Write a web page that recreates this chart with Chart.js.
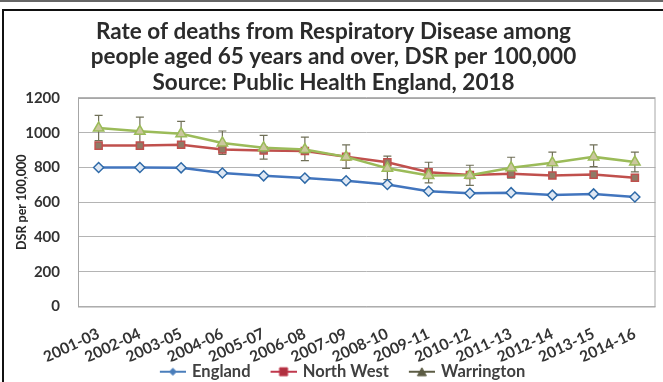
<!DOCTYPE html>
<html lang="en">
<head>
<meta charset="UTF-8">
<title>Respiratory deaths 65+</title>
<style>body{margin:0;background:#fff}</style>
</head>
<body>
<canvas id="myChart" width="663" height="382"></canvas>
<script src="https://cdn.jsdelivr.net/npm/chart.js"></script>
<script>
// data
const v_labels = ['2001-03', '2002-04', '2003-05', '2004-06', '2005-07', '2006-08', '2007-09',
    '2008-10', '2009-11', '2010-12', '2011-13', '2012-14', '2013-15', '2014-16'];
const v_england = [800, 800, 798, 768, 752, 739, 724, 702, 663, 652, 655, 641, 648, 630];
const v_northWest = [926, 926, 931, 903, 898, 895, 862, 830, 773, 757, 764, 754, 759, 741];
const v_warrington = [1027, 1008, 994, 941, 913, 903, 861, 796, 754, 755, 798, 827, 861, 831];
// warrington confidence interval
const v_warrUpper = [1100, 1090, 1065, 1010, 985, 975, 930, 865, 830, 813, 859, 888, 930, 888];
const v_warrLower = [955, 930, 925, 875, 848, 840, 795, 730, 712, 697, 738, 768, 805, 775];
const v_yTicks = [0, 200, 400, 600, 800, 1000, 1200];

const FONT = 'Lato';

// legend symbol: line with marker; blank space on the left gives the gap between items
function f_legendIcon(lineColor, shape, fill, stroke) {
    const c = document.createElement('canvas');
    c.width = 46; c.height = 12;
    const g = c.getContext('2d');
    g.strokeStyle = lineColor; g.lineWidth = 2;
    g.beginPath(); g.moveTo(20, 6); g.lineTo(46, 6); g.stroke();
    g.fillStyle = fill; g.strokeStyle = stroke; g.lineWidth = 1;
    g.beginPath();
    if (shape == 'diamond') {
        g.moveTo(33, 2.5); g.lineTo(36.5, 6); g.lineTo(33, 9.5); g.lineTo(29.5, 6);
    } else if (shape == 'square') {
        g.rect(29, 2, 8, 8);
    } else {
        g.moveTo(33, 2); g.lineTo(37.5, 10); g.lineTo(28.5, 10);
    }
    g.closePath(); g.fill(); g.stroke();
    return c;
}

const v_icons = [
    f_legendIcon('#4a7ebb', 'diamond', '#4a7ebb', '#4a7ebb'),
    f_legendIcon('#c0394d', 'square', '#b03040', '#c0394d'),
    f_legendIcon('#5c5c44', 'triangle', '#5c5c44', '#5c5c44')
];

const frame = {
    id: 'frame',
    beforeDraw(chart) {
        const ctx = chart.ctx;
        ctx.save();
        ctx.fillStyle = '#fff';
        ctx.fillRect(0, 0, chart.width, chart.height);
        ctx.fillStyle = '#666';
        ctx.fillRect(0, 0, chart.width, 2);
        ctx.fillStyle = '#111';
        ctx.fillRect(2, 9, chart.width - 2, 2);
        ctx.fillRect(2, 9, 2, chart.height - 9);
        ctx.restore();
    },
    beforeDatasetsDraw(chart) {
        const ctx = chart.ctx, a = chart.chartArea;
        ctx.save();
        ctx.strokeStyle = '#a6a6a6';
        ctx.lineWidth = 1;
        ctx.strokeRect(a.left + 0.5, a.top + 0.5, a.right - a.left - 1, a.bottom - a.top);
        // error bars for Warrington
        const y = chart.scales.y;
        const meta = chart.getDatasetMeta(2);
        ctx.strokeStyle = '#707058';
        ctx.lineWidth = 1.2;
        meta.data.forEach((pt, i) => {
            const t = y.getPixelForValue(v_warrUpper[i]);
            const b = y.getPixelForValue(v_warrLower[i]);
            ctx.beginPath();
            ctx.moveTo(pt.x, t); ctx.lineTo(pt.x, b);
            ctx.moveTo(pt.x - 4, t); ctx.lineTo(pt.x + 4, t);
            ctx.moveTo(pt.x - 4, b); ctx.lineTo(pt.x + 4, b);
            ctx.stroke();
        });
        ctx.restore();
    }
};

const ctx = document.querySelector('#myChart');
new Chart(ctx, {
    type: 'line',
    data: {
        labels: v_labels,
        datasets: [{
            label: 'England',
            data: v_england,
            borderColor: '#4275be',
            borderWidth: 2.5,
            pointStyle: 'rectRot',
            pointRadius: 5,
            pointBorderWidth: 1.5,
            pointBorderColor: '#2f6aa8',
            pointBackgroundColor: '#dfe8f4',
            order: 2
        }, {
            label: 'North West',
            data: v_northWest,
            borderColor: '#c0504d',
            borderWidth: 2.5,
            pointStyle: 'rect',
            pointRadius: 5,
            pointBorderWidth: 1.5,
            pointBorderColor: '#c0504d',
            pointBackgroundColor: '#8f7a66',
            order: 1
        }, {
            label: 'Warrington',
            data: v_warrington,
            borderColor: '#9bbb59',
            borderWidth: 2.5,
            pointStyle: 'triangle',
            pointRadius: 6,
            pointBorderWidth: 1.5,
            pointBorderColor: '#9bbb59',
            pointBackgroundColor: '#cbc79e',
            order: 0
        }]
    },
    options: {
        responsive: false,
        animation: false,
        layout: { padding: { top: 10, left: 10, right: 6, bottom: -8 } },
        scales: {
            x: {
                offset: true,
                grid: { display: false },
                border: { display: false },
                ticks: {
                    autoSkip: false, maxRotation: 25, minRotation: 25, padding: 10,
                    color: '#333', font: { family: FONT, size: 15.5, weight: 'bold' }
                },
                afterFit: (s) => { s.height = 55; }
            },
            y: {
                min: 0, max: 1200,
                afterBuildTicks: (s) => { s.ticks = v_yTicks.map(v => ({ value: v })); },
                grid: { color: '#b4b4b4', drawTicks: false },
                border: { display: false },
                ticks: {
                    padding: 18, color: '#333',
                    font: { family: FONT, size: 15, weight: 'bold' },
                    callback: (v) => String(v)
                },
                title: {
                    display: true, text: 'DSR per 100,000', color: '#262626',
                    font: { family: FONT, size: 12.5, weight: 'bold' },
                    padding: { top: 4, bottom: 0 }
                },
                afterFit: (s) => { s.width = 68; }
            }
        },
        plugins: {
            title: {
                display: true,
                text: ['Rate of deaths from Respiratory Disease among',
                    'people aged 65 years and over, DSR per 100,000',
                    'Source: Public Health England, 2018'],
                color: '#2b2b2b',
                font: { family: FONT, size: 22.5, weight: 'bold', lineHeight: 1.133 },
                padding: { top: 9, bottom: 2.5 }
            },
            legend: {
                position: 'bottom',
                labels: {
                    color: '#404040',
                    font: { family: FONT, size: 16.5, weight: 'bold' },
                    usePointStyle: true,
                    pointStyleWidth: 42,
                    boxHeight: 12,
                    padding: 2,
                    generateLabels: (chart) => chart.data.datasets.map((d, i) => ({
                        text: d.label,
                        pointStyle: v_icons[i],
                        fillStyle: d.borderColor,
                        strokeStyle: d.borderColor,
                        lineWidth: 0,
                        hidden: false,
                        datasetIndex: i,
                        fontColor: '#404040'
                    }))
                }
            },
            tooltip: { enabled: false }
        }
    },
    plugins: [frame]
});
</script>
</body>
</html>
